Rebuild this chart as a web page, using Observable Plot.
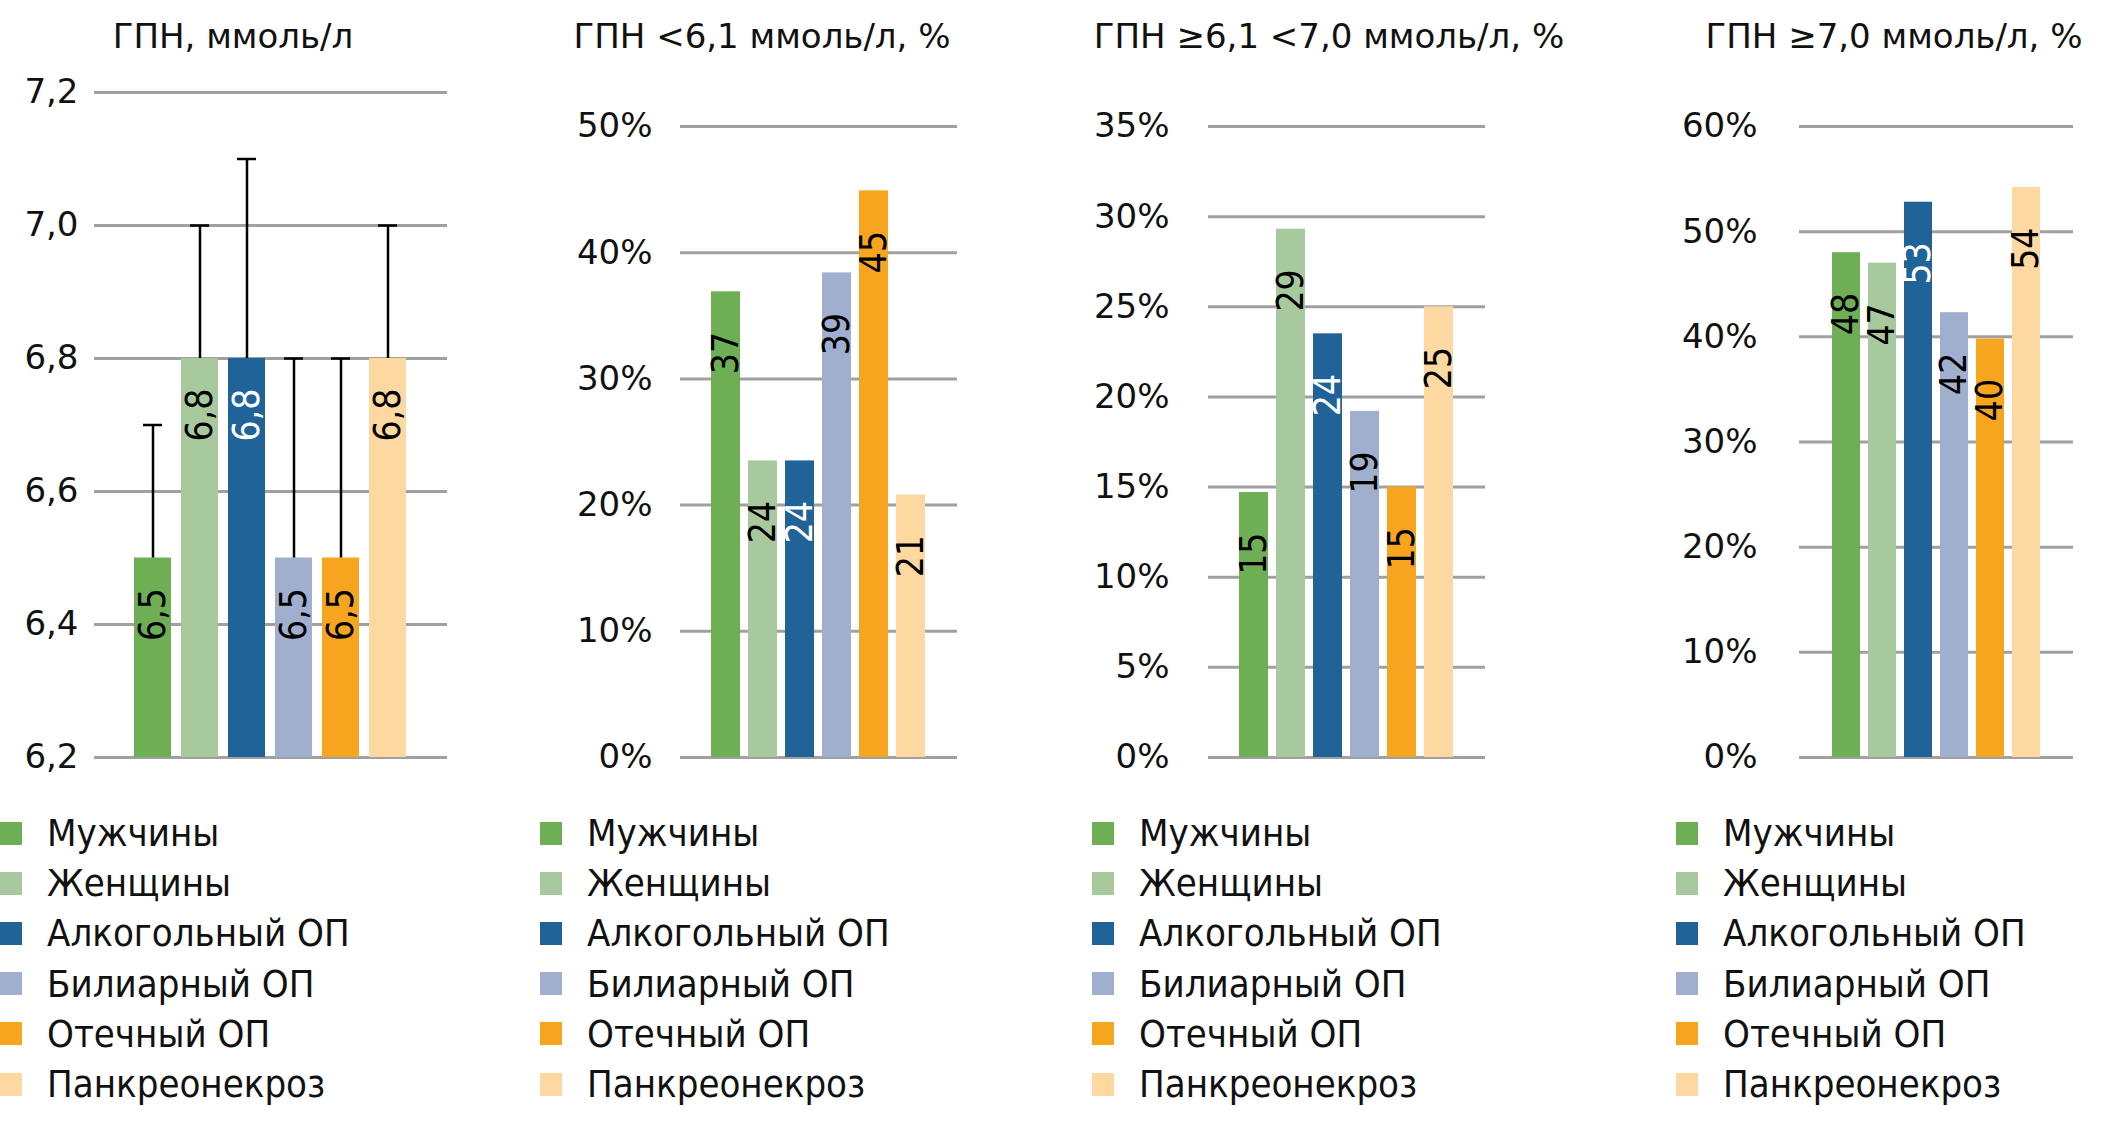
<!DOCTYPE html>
<html><head><meta charset="utf-8">
<script src="https://cdn.jsdelivr.net/npm/d3@7"></script>
<script src="https://cdn.jsdelivr.net/npm/@observablehq/plot@0.6"></script>
<style>
html,body{margin:0;padding:0;background:#fff;}
#root{position:relative;width:2126px;height:1135px;overflow:hidden;background:#fff;}
.title{position:absolute;width:700px;text-align:center;font-family:"DejaVu Sans",sans-serif;font-size:34px;line-height:34px;color:#111;white-space:nowrap;}
.panel{position:absolute;top:0;}
.legend{position:absolute;top:808px;font-family:"DejaVu Sans Condensed","DejaVu Sans",sans-serif;font-stretch:condensed;font-size:38px;color:#111;}
.legend .row{display:flex;align-items:center;height:50.2px;white-space:nowrap;}
.legend .sw{width:22px;height:23px;margin-right:25px;flex:none;}
</style></head><body><div id="root"></div>
<script>
// ---- data ----
const categories = ["Мужчины", "Женщины", "Алкогольный ОП", "Билиарный ОП", "Отечный ОП", "Панкреонекроз"];
const palette = ["#6eae55", "#a8c99e", "#1f6399", "#a0afce", "#f7a51e", "#fdd8a0"];

const titles = ["ГПН, ммоль/л", "ГПН <6,1 ммоль/л, %", "ГПН ≥6,1 <7,0 ммоль/л, %", "ГПН ≥7,0 ммоль/л, %"];

const gpnMean   = [6.5, 6.8, 6.8, 6.5, 6.5, 6.8];
const gpnUpper  = [6.7, 7.0, 7.1, 6.8, 6.8, 7.0];
const gpnLabels = ["6,5", "6,8", "6,8", "6,5", "6,5", "6,8"];
const gpnTicks  = [6.2, 6.4, 6.6, 6.8, 7.0, 7.2];

const below61       = [36.9, 23.5, 23.5, 38.4, 44.9, 20.8];
const below61Labels = ["37", "24", "24", "39", "45", "21"];
const below61Ticks  = [0, 10, 20, 30, 40, 50];

const mid61to70       = [14.7, 29.3, 23.5, 19.2, 15.0, 25.0];
const mid61to70Labels = ["15", "29", "24", "19", "15", "25"];
const mid61to70Ticks  = [0, 5, 10, 15, 20, 25, 30, 35];

const above70       = [48.0, 47.0, 52.8, 42.3, 39.8, 54.2];
const above70Labels = ["48", "47", "53", "42", "40", "54"];
const above70Ticks  = [0, 10, 20, 30, 40, 50, 60];

const whiteLabelCategory = "Алкогольный ОП";

// ---- layout ----
const commaFmt = d => d.toFixed(1).replace(".", ",");
const pctFmt = d => d + "%";
const panels = [
  {values: gpnMean, labels: gpnLabels, upper: gpnUpper, ticks: gpnTicks, fmt: commaFmt, labelDy: 30,
   left: 0, width: 460, marginLeft: 94, marginTop: 92, tickPadding: 16, titleCenter: 233, legendLeft: 0},
  {values: below61, labels: below61Labels, ticks: below61Ticks, fmt: pctFmt, labelDy: 40,
   left: 540, width: 430, marginLeft: 140, marginTop: 126, tickPadding: 28, titleCenter: 762, legendLeft: 540},
  {values: mid61to70, labels: mid61to70Labels, ticks: mid61to70Ticks, fmt: pctFmt, labelDy: 40,
   left: 1090, width: 408, marginLeft: 118, marginTop: 126, tickPadding: 39, titleCenter: 1329, legendLeft: 1092},
  {values: above70, labels: above70Labels, ticks: above70Ticks, fmt: pctFmt, labelDy: 40,
   left: 1660, width: 426, marginLeft: 139, marginTop: 126, tickPadding: 42, titleCenter: 1894, legendLeft: 1676}
];
const plotHeight = 780, plotBottom = 757;

const root = document.getElementById("root");

panels.forEach((p, k) => {
  const rows = categories.map((c, i) => ({cat: c, value: p.values[i], label: p.labels[i], upper: p.upper ? p.upper[i] : null}));
  const base = p.ticks[0];
  const marks = [
    Plot.ruleY(p.ticks, {stroke: "#a0a0a0", strokeWidth: 3}),
    Plot.barY(rows, {x: "cat", y1: () => base, y2: "value", fill: "cat"})
  ];
  if (p.upper) {
    marks.push(Plot.ruleX(rows, {x: "cat", y1: "value", y2: "upper", stroke: "#000", strokeWidth: 2.5}));
    marks.push(Plot.tickY(rows, {x: "cat", y: "upper", stroke: "#000", strokeWidth: 2.5, insetLeft: 9, insetRight: 9}));
  }
  const labelOpts = {x: "cat", y: "value", text: "label", rotate: -90, textAnchor: "end", dy: p.labelDy,
    fontSize: 37, fontFamily: "DejaVu Sans Condensed, DejaVu Sans, sans-serif"};
  marks.push(Plot.text(rows, {...labelOpts, filter: d => d.cat !== whiteLabelCategory, fill: "#000"}));
  marks.push(Plot.text(rows, {...labelOpts, filter: d => d.cat === whiteLabelCategory, fill: "#fff"}));
  marks.push(Plot.axisY({ticks: p.ticks, tickFormat: p.fmt, tickSize: 0, tickPadding: p.tickPadding, label: null}));

  const chart = Plot.plot({
    width: p.width,
    height: plotHeight,
    marginLeft: p.marginLeft,
    marginRight: 13,
    marginTop: p.marginTop,
    marginBottom: plotHeight - plotBottom,
    x: {domain: categories, paddingInner: 0.21, paddingOuter: 0.83, axis: null},
    y: {domain: [p.ticks[0], p.ticks[p.ticks.length - 1]], label: null},
    color: {domain: categories, range: palette},
    style: {fontFamily: "DejaVu Sans, sans-serif", fontSize: "34px", color: "#111", background: "transparent", overflow: "visible", maxWidth: "none"},
    marks
  });
  const wrap = document.createElement("div");
  wrap.className = "panel";
  wrap.style.left = p.left + "px";
  wrap.style.width = p.width + "px";
  wrap.appendChild(chart);
  root.appendChild(wrap);

  const t = document.createElement("div");
  t.className = "title";
  t.style.left = (p.titleCenter - 350) + "px";
  t.style.top = "19px";
  t.textContent = titles[k];
  root.appendChild(t);

  const lg = document.createElement("div");
  lg.className = "legend";
  lg.style.left = p.legendLeft + "px";
  categories.forEach((c, i) => {
    const r = document.createElement("div");
    r.className = "row";
    const sw = document.createElement("span");
    sw.className = "sw";
    sw.style.background = palette[i];
    const tx = document.createElement("span");
    tx.textContent = c;
    r.appendChild(sw); r.appendChild(tx);
    lg.appendChild(r);
  });
  root.appendChild(lg);
});
</script>
</body></html>
